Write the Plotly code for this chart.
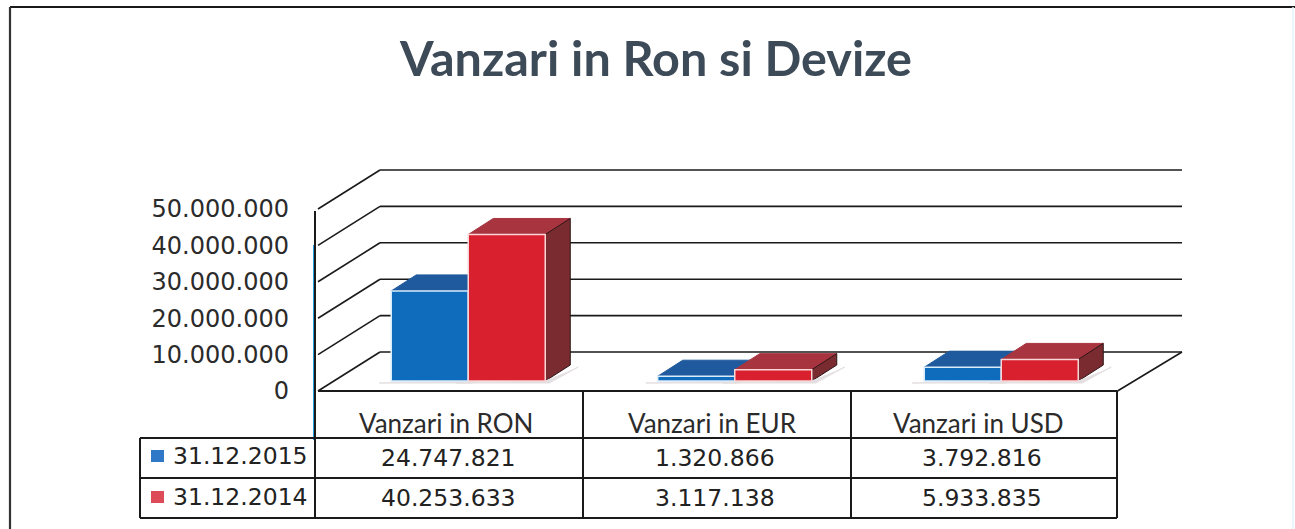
import plotly.graph_objects as go

title = "Vanzari in Ron si Devize"
categories = ["Vanzari in RON", "Vanzari in EUR", "Vanzari in USD"]
series_names = ["31.12.2015", "31.12.2014"]
values_2015 = [24747821, 1320866, 3792816]
values_2014 = [40253633, 3117138, 5933835]
tick_values = [0, 10000000, 20000000, 30000000, 40000000, 50000000]

W, H = 1295, 529
PX_X = 266.5          # pixels per category
PX_Y = 3.64e-6        # pixels per unit value
X0, Y0 = 318, 391     # pixel of the front-floor origin


def dx(p):
    return p / PX_X


def dy(p):
    return p / PX_Y


def fmt(v):
    return f"{v:,d}".replace(",", ".")


def px(x):
    return x / W


def py(y):
    return 1 - y / H


shapes = []


def line(x0, y0, x1, y1, color="#1a1a1a", width=2, ref="paper", layer="below"):
    if ref == "paper":
        x0, x1, y0, y1 = px(x0), px(x1), py(y0), py(y1)
    shapes.append(dict(type="line", xref=ref if ref == "paper" else "x", yref=ref if ref == "paper" else "y",
                       x0=x0, y0=y0, x1=x1, y1=y1, layer=layer, line=dict(color=color, width=width)))


def poly(points, fill, edge=None):
    path = "M " + " L ".join(f"{a},{b}" for a, b in points) + " Z"
    shapes.append(dict(type="path", xref="x", yref="y", path=path, fillcolor=fill, layer="below",
                       line=dict(color=edge or fill, width=1)))


# walls and gridlines, driven by the tick values
WALL_X, WALL_Y = dx(62), dy(39)
RIGHT = dx(1182 - X0)
for v in tick_values:
    line(0, v, WALL_X, v + WALL_Y, ref="data", width=1.6)
    line(WALL_X, v + WALL_Y, RIGHT, v + WALL_Y, ref="data", width=1.6)
line(0, 0, 3, 0, ref="data", width=2)
line(3, 0, RIGHT, WALL_Y, ref="data", width=1.6)
line(315, 211, 315, 391)
line(313.5, 245, 313.5, 440, color="#2a9fe0", width=1)

# bar geometry
BAR_W = dx(77)
SHIFT = dx(17)
LIFT = dy(10)
DEPTH_X, DEPTH_Y = dx(25), dy(16)
centers = [i + 0.5 + SHIFT for i in range(3)]

FACES = [
    (values_2015, -BAR_W, "#1f5a9e", "#174a80"),
    (values_2014, 0, "#a8343f", "#7a2b30"),
]
for vals, off, top_col, side_col in FACES:
    for c, v in zip(centers, vals):
        l, r = c + off, c + off + BAR_W
        t = LIFT + v
        poly([(l, t), (r, t), (r + DEPTH_X, t + DEPTH_Y), (l + DEPTH_X, t + DEPTH_Y)], top_col)
        poly([(r, LIFT), (r + DEPTH_X, LIFT + DEPTH_Y), (r + DEPTH_X, t + DEPTH_Y), (r, t)], side_col, "#2a1416")
        poly([(l - dx(12), LIFT - dy(2)), (r + dx(4), LIFT - dy(2)), (r + DEPTH_X + dx(8), LIFT + DEPTH_Y - dy(2)),
              (r + DEPTH_X, LIFT + DEPTH_Y - dy(6)), (r, LIFT)], "#e4dfe0")

fig = go.Figure()
fig.add_bar(x=centers, y=values_2015, base=[LIFT] * 3, name=series_names[0], width=BAR_W, offset=-BAR_W,
            marker=dict(color="#0f6cbd", line=dict(color="#d9ecfa", width=1.5)), showlegend=False)
fig.add_bar(x=centers, y=values_2014, base=[LIFT] * 3, name=series_names[1], width=BAR_W, offset=0,
            marker=dict(color="#d9202f", line=dict(color="#f9d5d8", width=1.5)), showlegend=False)

# data table
T_LEFT, C0, C1, C2, C3 = 140, 315, 583, 851, 1117
R0, R1, R2, R3 = 391, 438, 478, 518
line(T_LEFT, R1, C3, R1)
line(T_LEFT, R2, C3, R2)
line(T_LEFT, R3, C3, R3)
line(T_LEFT, R1, T_LEFT, R3)
for c in (C0, C1, C2, C3):
    line(c, R0, c, R3)
# frame
line(10, 7, 1295, 7, width=2.2)
line(10, 7, 10, 529, width=2.2, color="#333333")
line(1293, 7, 1293, 529, color="#e4f3fa", width=1.5)

CELL = dict(family="DejaVu Sans", size=23.5, color="#222222")
ann = [dict(text=f"<b>{title}</b>", x=px(655), y=py(57), xref="paper", yref="paper", showarrow=False,
            xanchor="center", yanchor="middle", font=dict(family="Lato", size=48.5, color="#3d4a57"))]
for i, cat in enumerate(categories):
    ann.append(dict(text=cat, x=i + 0.48, y=py(423), xref="x", yref="paper", showarrow=False,
                    xanchor="center", yanchor="middle",
                    font=dict(family="Lato", size=26, color="#2b2b2b")))
    ann.append(dict(text=fmt(values_2015[i]), x=i + 0.49, y=py(458), xref="x", yref="paper",
                    xanchor="center", yanchor="middle", showarrow=False, font=CELL))
    ann.append(dict(text=fmt(values_2014[i]), x=i + 0.49, y=py(498), xref="x", yref="paper",
                    xanchor="center", yanchor="middle", showarrow=False, font=CELL))
for name, row, col in ((series_names[0], 456, "#2f78c8"), (series_names[1], 497, "#dd4a58")):
    ann.append(dict(text=name, x=px(171), y=py(row), xref="paper", yref="paper", xanchor="left",
                    yanchor="middle", showarrow=False, font=CELL))
    shapes.append(dict(type="rect", xref="paper", yref="paper", x0=px(151), x1=px(164),
                       y0=py(row + 6), y1=py(row - 6), fillcolor=col, line=dict(width=0), layer="above"))

fig.update_layout(
    width=W, height=H, margin=dict(l=0, r=0, t=0, b=0), autosize=False,
    paper_bgcolor="white", plot_bgcolor="rgba(0,0,0,0)",
    barmode="overlay", showlegend=False, shapes=shapes, annotations=ann,
    xaxis=dict(range=[-X0 / PX_X, (W - X0) / PX_X], visible=False, fixedrange=True),
    yaxis=dict(range=[-(H - Y0) / PX_Y, Y0 / PX_Y], anchor="free", position=px(289), side="left",
               tickmode="array", tickvals=tick_values, ticktext=[fmt(v) for v in tick_values],
               showgrid=False, zeroline=False, showline=False, ticks="",
               tickfont=dict(family="DejaVu Sans", size=24, color="#2b2b2b"), fixedrange=True),
)
fig.write_html("out.html", config=dict(displayModeBar=False),
               post_script="document.body.style.margin='0';")
